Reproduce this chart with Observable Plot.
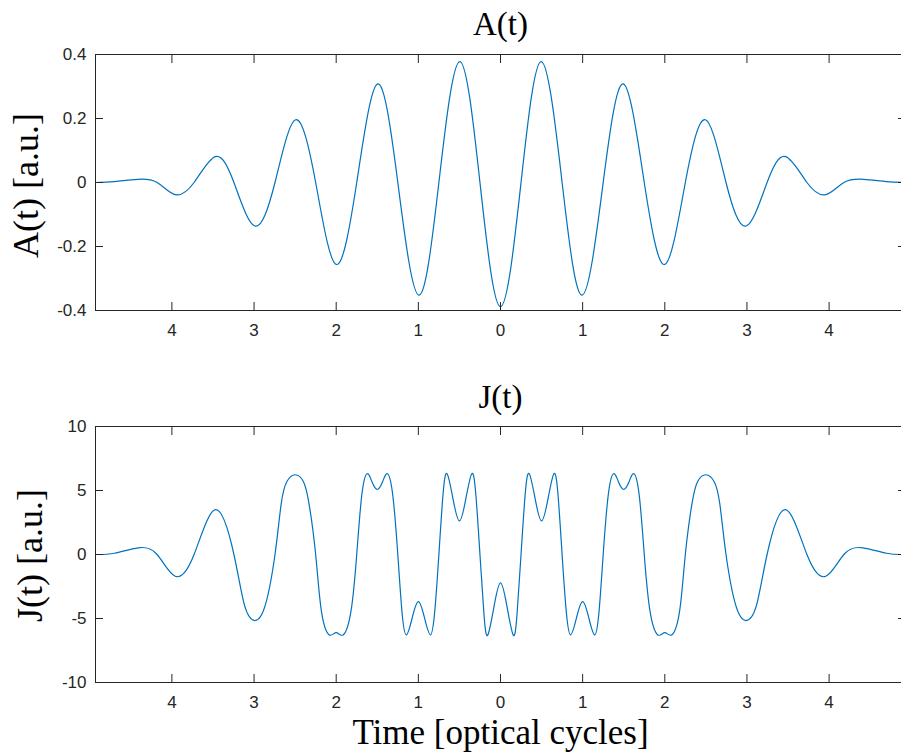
<!DOCTYPE html>
<html><head><meta charset="utf-8">
<script src="https://cdn.jsdelivr.net/npm/d3@7"></script>
<script src="https://cdn.jsdelivr.net/npm/@observablehq/plot@0.6"></script>
<style>
html,body{margin:0;padding:0;background:#fff;overflow:hidden;}
#chart{width:906px;}
#chart svg{display:block;}
</style></head><body><div id="chart"></div>
<script>
// ---- data ----
const xTicks = [-4, -3, -2, -1, 0, 1, 2, 3, 4];
const xTickLabels = ["4", "3", "2", "1", "0", "1", "2", "3", "4"];
const aTicks = [-0.4, -0.2, 0, 0.2, 0.4];
const aTickLabels = ["-0.4", "-0.2", "0", "0.2", "0.4"];
const jTicks = [-10, -5, 0, 5, 10];
const jTickLabels = ["-10", "-5", "0", "5", "10"];

// A(t): extrema and zero crossings
const aTime = [-4.93, -4.70, -4.42, -4.18, -3.96, -3.73, -3.47, -3.245, -2.99, -2.745, -2.495, -2.25, -2.0, -1.75, -1.495, -1.25, -0.995, -0.75, -0.497, -0.25, 0,
  0.25, 0.497, 0.75, 0.995, 1.25, 1.495, 1.75, 2.0, 2.25, 2.495, 2.745, 2.99, 3.245, 3.47, 3.73, 3.96, 4.18, 4.42, 4.70, 4.93];
const aValue = [0, 0.003, 0.010, 0, -0.038, 0, 0.081, 0, -0.136, 0, 0.196, 0, -0.256, 0, 0.308, 0, -0.352, 0, 0.378, 0, -0.388,
  0, 0.378, 0, -0.352, 0, 0.308, 0, -0.256, 0, 0.196, 0, -0.136, 0, 0.081, 0, -0.038, 0, 0.010, 0.003, 0];

// J(t): extrema, dips, zero crossings and shoulders
const jTime = [-4.93, -4.70, -4.41, -4.18, -3.96, -3.73, -3.47, -3.245, -3.115, -2.99, -2.865, -2.745, -2.67, -2.60, -2.50, -2.40, -2.33, -2.25,
  -2.18, -2.085, -2.00, -1.915, -1.82, -1.75, -1.69, -1.625, -1.562, -1.50, -1.438, -1.375, -1.31, -1.25,
  -1.20, -1.146, -1.073, -1.00, -0.927, -0.854, -0.80, -0.75, -0.70, -0.65, -0.575, -0.50, -0.425, -0.35, -0.30, -0.25,
  -0.20, -0.154, -0.077, 0, 0.077, 0.154, 0.20,
  0.25, 0.30, 0.35, 0.425, 0.50, 0.575, 0.65, 0.70, 0.75, 0.80, 0.854, 0.927, 1.00, 1.073, 1.146, 1.20,
  1.25, 1.31, 1.375, 1.438, 1.50, 1.562, 1.625, 1.69, 1.75, 1.82, 1.915, 2.00, 2.085, 2.18,
  2.25, 2.33, 2.40, 2.50, 2.60, 2.67, 2.745, 2.865, 2.99, 3.115, 3.245, 3.47, 3.73, 3.96, 4.18, 4.41, 4.70, 4.93];
const jValue = [0, 0.10, 0.52, 0, -1.70, 0, 3.50, 0, -4.00, -5.16, -4.00, 0, 3.94, 5.70, 6.23, 5.70, 3.94, 0,
  -4.43, -6.28, -6.10, -6.28, -4.43, 0, 4.56, 6.31, 5.64, 5.08, 5.64, 6.31, 4.56, 0,
  -4.42, -6.28, -4.90, -3.68, -4.90, -6.28, -4.42, 0, 4.67, 6.31, 4.24, 2.62, 4.24, 6.31, 4.67, 0,
  -4.76, -6.28, -3.99, -2.22, -3.99, -6.28, -4.76,
  0, 4.67, 6.31, 4.24, 2.62, 4.24, 6.31, 4.67, 0, -4.42, -6.28, -4.90, -3.68, -4.90, -6.28, -4.42,
  0, 4.56, 6.31, 5.64, 5.08, 5.64, 6.31, 4.56, 0, -4.43, -6.28, -6.10, -6.28, -4.43,
  0, 3.94, 5.70, 6.23, 5.70, 3.94, 0, -4.00, -5.16, -4.00, 0, 3.50, 0, -1.70, 0, 0.52, 0.10, 0];

const titles = ["A(t)", "J(t)"];
const yLabels = ["A(t) [a.u.]", "J(t) [a.u.]"];
const xLabel = "Time [optical cycles]";
// --------------------------------------

const aData = aTime.map((t, i) => ({t, v: aValue[i]}));
const jData = jTime.map((t, i) => ({t, v: jValue[i]}));

const xDomain = [-4.93, 4.93];
const sans = "'Liberation Sans', Arial, Helvetica, sans-serif";
const serif = "'Liberation Serif', 'Times New Roman', serif";
const lineColor = "#0072BD";

function panel({data, yDomain, yTicks, yTickLabels, title, yLabel, yLabelDx, yLabelDy, titleDy, height, marginBottom, extra = []}) {
  return Plot.plot({
    width: 906,
    height,
    marginLeft: 95,
    marginRight: 1,
    marginTop: 54,
    marginBottom,
    style: {background: "white", color: "#262626", overflow: "visible"},
    x: {domain: xDomain, label: null},
    y: {domain: yDomain, label: null},
    marks: [
      Plot.line(data, {x: "t", y: "v", stroke: lineColor, strokeWidth: 1.2, curve: "natural"}),
      Plot.frame({stroke: "currentColor", strokeWidth: 1}),
      Plot.axisX({anchor: "bottom", ticks: xTicks, tickSize: -8, tickPadding: 21,
        tickFormat: d => xTickLabels[xTicks.indexOf(d)], fontSize: 17, fontFamily: sans, label: null}),
      Plot.axisX({anchor: "top", ticks: xTicks, tickSize: -8, tickFormat: () => "", label: null}),
      Plot.axisY({anchor: "left", ticks: yTicks, tickSize: -8, tickPadding: 17,
        tickFormat: d => yTickLabels[yTicks.indexOf(d)], fontSize: 17, fontFamily: sans, label: null}),
      Plot.axisY({anchor: "right", ticks: yTicks, tickSize: -8, tickFormat: () => "", label: null}),
      Plot.text([title], {text: d => d, frameAnchor: "top", textAnchor: "middle", lineAnchor: "middle",
        dy: titleDy, fontFamily: serif, fontSize: 33, fill: "#000"}),
      Plot.text([yLabel], {text: d => d, frameAnchor: "left", textAnchor: "middle", lineAnchor: "middle",
        rotate: -90, dx: yLabelDx, dy: yLabelDy, fontFamily: serif, fontSize: 36, fill: "#000"}),
      ...extra
    ]
  });
}

const topPanel = panel({data: aData, yDomain: [-0.4, 0.4], yTicks: aTicks, yTickLabels: aTickLabels,
  title: titles[0], yLabel: yLabels[0], yLabelDx: -69, yLabelDy: 3, titleDy: -30, height: 372, marginBottom: 62});
const bottomPanel = panel({data: jData, yDomain: [-10, 10], yTicks: jTicks, yTickLabels: jTickLabels,
  title: titles[1], yLabel: yLabels[1], yLabelDx: -65, yLabelDy: 1, titleDy: -29, height: 381, marginBottom: 71,
  extra: [Plot.text([xLabel], {text: d => d, frameAnchor: "bottom", textAnchor: "middle", lineAnchor: "middle",
    dy: 50, fontFamily: serif, fontSize: 35, fill: "#000"})]});

const chart = document.getElementById("chart");
chart.appendChild(topPanel);
chart.appendChild(bottomPanel);
</script>
</body></html>
